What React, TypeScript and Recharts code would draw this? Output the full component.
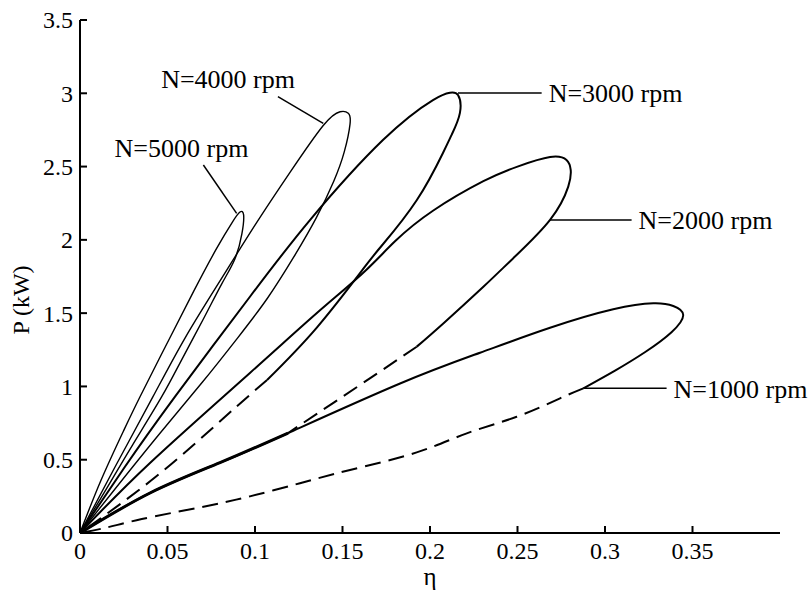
import React from 'react';
import { LineChart, Line, XAxis, YAxis, ReferenceLine, ReferenceDot } from 'recharts';

// [eta, P(kW)], one loop per speed
const n5000 = [
  [0, 0], [0.012, 0.36], [0.025, 0.7], [0.0343, 0.93], [0.05, 1.3], [0.065, 1.65], [0.078, 1.94],
  [0.087, 2.12], [0.0914, 2.19], [0.0935, 2.17], [0.0925, 2.04], [0.0885, 1.87], [0.081, 1.7],
  [0.0705, 1.46], [0.058, 1.18], [0.0467, 0.93], [0.03, 0.6], [0.015, 0.3], [0, 0],
];
const n4000 = [
  [0, 0], [0.02, 0.45], [0.0417, 0.93], [0.06, 1.33], [0.08, 1.72], [0.1, 2.1], [0.12, 2.46],
  [0.139, 2.78], [0.1486, 2.874], [0.1533, 2.864], [0.1543, 2.79], [0.151, 2.6], [0.145, 2.4],
  [0.135, 2.15], [0.122, 1.88], [0.107, 1.6], [0.09, 1.33], [0.07, 1.03], [0.045, 0.67], [0.02, 0.3], [0, 0],
];
const n3000Solid = [
  [0, 0], [0.025, 0.44], [0.0543, 0.93], [0.0971, 1.612], [0.1314, 2.135], [0.1731, 2.681],
  [0.2017, 2.954], [0.2114, 3.004], [0.216, 2.988], [0.2171, 2.866], [0.2125, 2.72], [0.2074, 2.593],
  [0.1924, 2.27], [0.1731, 1.97], [0.1617, 1.8], [0.1352, 1.4], [0.1069, 1.044],
];
const n3000Dash = [[0.1069, 1.044], [0.0829, 0.793], [0.044, 0.39], [0, 0]];
const n2000Solid = [
  [0, 0], [0.04, 0.478], [0.0971, 1.092], [0.1352, 1.499], [0.1617, 1.774], [0.18, 1.99],
  [0.2019, 2.2], [0.2305, 2.4], [0.25, 2.5], [0.2686, 2.565], [0.278, 2.545], [0.2804, 2.477],
  [0.279, 2.363], [0.2686, 2.136], [0.2476, 1.875], [0.2305, 1.68], [0.2076, 1.43], [0.1924, 1.271],
];
const n2000Dash = [[0.1924, 1.271], [0.17, 1.09], [0.145, 0.89], [0.1189, 0.682]];
const n2000Tail = [[0.1189, 0.682], [0.08, 0.48], [0.04, 0.273], [0, 0]];
const n1000Solid = [
  [0, 0], [0.04, 0.273], [0.08, 0.48], [0.1189, 0.682], [0.1829, 1.02], [0.2286, 1.23],
  [0.2686, 1.4], [0.3047, 1.526], [0.3276, 1.567], [0.339, 1.549], [0.3447, 1.487], [0.338, 1.37],
  [0.323, 1.235], [0.306, 1.11], [0.2876, 0.987],
];
const n1000Dash = [
  [0.2876, 0.987], [0.2743, 0.919], [0.2495, 0.793], [0.221, 0.68], [0.1924, 0.55], [0.1543, 0.43],
  [0.1257, 0.34], [0.0971, 0.25], [0.0686, 0.175], [0.0353, 0.095], [0.0162, 0.04], [0, 0],
];

const xTicks = [0, 0.05, 0.1, 0.15, 0.2, 0.25, 0.3, 0.35];
const yTicks = [0, 0.5, 1, 1.5, 2, 2.5, 3, 3.5];

// speed labels: leader line start, end, text anchor
const labels = [
  { text: 'N=5000 rpm', from: [0.0895, 2.181], to: [0.0705, 2.511], at: [0.058, 2.627], pos: 'center' },
  { text: 'N=4000 rpm', from: [0.139, 2.795], to: [0.1131, 2.977], at: [0.0846, 3.098], pos: 'center' },
  { text: 'N=3000 rpm', from: [0.216, 3.002], to: [0.2638, 3.002], at: [0.2638, 3.002], pos: 'right' },
  { text: 'N=2000 rpm', from: [0.2686, 2.136], to: [0.3152, 2.136], at: [0.3152, 2.136], pos: 'right' },
  { text: 'N=1000 rpm', from: [0.2876, 0.987], to: [0.3352, 0.987], at: [0.3352, 0.987], pos: 'right' },
];

const pts = (a: number[][]) => a.map(([x, y]) => ({ x, y }));

const FONT = 'Liberation Serif, DejaVu Serif, serif';
const textStyle = { fontFamily: FONT };

const YTick = (props: any) => {
  const { x, y, payload } = props;
  return (
    <g>
      <line x1={x} y1={y} x2={x + 7} y2={y} stroke="#000" strokeWidth={2} />
      <text x={x - 7} y={y} dy="0.35em" textAnchor="end" fontSize={24} style={textStyle} fill="#000">
        {payload.value}
      </text>
    </g>
  );
};

const XTick = (props: any) => {
  const { x, y, payload } = props;
  return (
    <g>
      <line x1={x} y1={y} x2={x} y2={y - 7} stroke="#000" strokeWidth={2} />
      <text x={x} y={y + 26} textAnchor="middle" fontSize={24} style={textStyle} fill="#000">
        {payload.value}
      </text>
    </g>
  );
};

const curves = [
  { key: 'n5000', data: n5000, width: 1.4, dash: undefined },
  { key: 'n4000', data: n4000, width: 1.4, dash: undefined },
  { key: 'n3000s', data: n3000Solid, width: 2, dash: undefined },
  { key: 'n3000d', data: n3000Dash, width: 2, dash: '16 8' },
  { key: 'n2000s', data: n2000Solid, width: 2, dash: undefined },
  { key: 'n2000d', data: n2000Dash, width: 2, dash: '16 8' },
  { key: 'n2000t', data: n2000Tail, width: 3, dash: undefined },
  { key: 'n1000s', data: n1000Solid, width: 2, dash: undefined },
  { key: 'n1000d', data: n1000Dash, width: 2, dash: '16 8' },
];

export default function App() {
  return (
    <div style={{ position: 'absolute', left: 0, top: 0, background: '#fff', fontFamily: FONT }}>
      <LineChart width={811} height={590} margin={{ top: 20, right: 31, bottom: 8, left: 20 }} style={textStyle}>
        <XAxis
          type="number"
          dataKey="x"
          domain={[0, 0.4]}
          ticks={xTicks}
          interval={0}
          height={49}
          tickSize={0}
          tickMargin={0}
          tickLine={false}
          tick={<XTick />}
          axisLine={{ stroke: '#000', strokeWidth: 2 }}
          allowDataOverflow
          label={{ value: 'η', position: 'insideBottom', offset: -3, fontSize: 25, style: textStyle, fill: '#000' }}
        />
        <YAxis
          type="number"
          dataKey="y"
          domain={[0, 3.5]}
          ticks={yTicks}
          interval={0}
          width={60}
          tickSize={0}
          tickMargin={0}
          tickLine={false}
          tick={<YTick />}
          axisLine={{ stroke: '#000', strokeWidth: 2 }}
          allowDataOverflow
          label={{
            content: () => (
              <text x={21} y={300} transform="rotate(-90 21 300)" textAnchor="middle" dy="0.35em"
                fontSize={24} style={textStyle} fill="#000">
                P (kW)
              </text>
            ),
          }}
        />
        {curves.map((c) => (
          <Line
            key={c.key}
            data={pts(c.data)}
            dataKey="y"
            type="natural"
            stroke="#000"
            strokeWidth={c.width}
            strokeDasharray={c.dash}
            dot={false}
            activeDot={false}
            isAnimationActive={false}
          />
        ))}
        {labels.map((l) => (
          <ReferenceLine
            key={l.text + '-line'}
            segment={[{ x: l.from[0], y: l.from[1] }, { x: l.to[0], y: l.to[1] }]}
            stroke="#000"
            strokeWidth={1.5}
          />
        ))}
        {labels.map((l) => (
          <ReferenceDot
            key={l.text}
            x={l.at[0]}
            y={l.at[1]}
            r={0}
            fill="none"
            stroke="none"
            label={{ value: l.text, position: l.pos as any, offset: 7, fontSize: 26, style: textStyle, fill: '#000' }}
          />
        ))}
      </LineChart>
    </div>
  );
}
